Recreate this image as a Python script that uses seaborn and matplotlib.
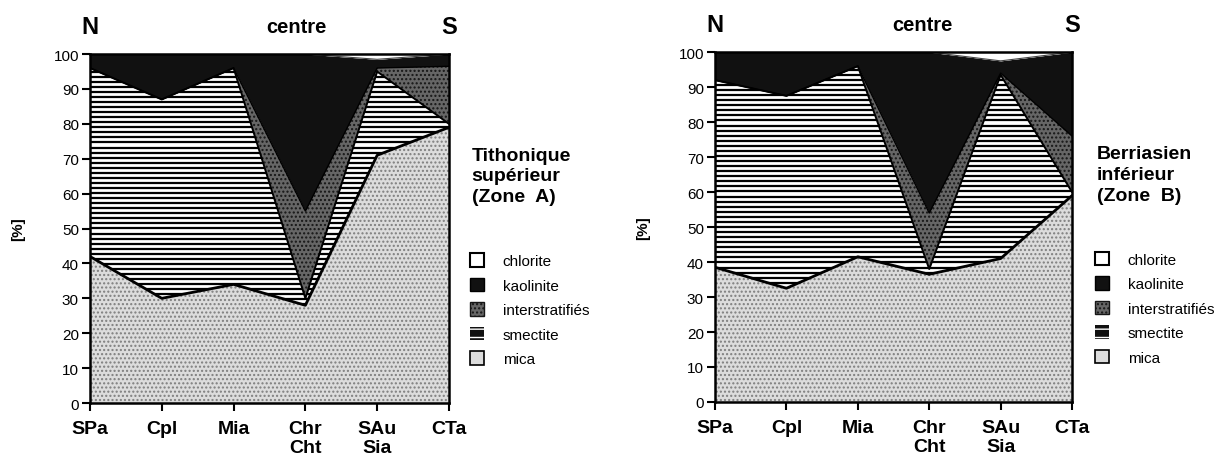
import matplotlib

matplotlib.use("Agg")
import matplotlib.pyplot as plt
import numpy as np
import pandas as pd
import seaborn as sns
from matplotlib.patches import Patch

sns.set_theme(style="ticks")
plt.rcParams["font.family"] = ["Liberation Sans", "DejaVu Sans"]
plt.rcParams["text.color"] = "black"
plt.rcParams["xtick.color"] = "black"
plt.rcParams["ytick.color"] = "black"
plt.rcParams["xtick.labelcolor"] = "black"
plt.rcParams["ytick.labelcolor"] = "black"

# --- data: clay mineral fractions [%] per site, N -> S ------------------- #
sites = ["SPa", "Cpl", "Mia", "Chr\nCht", "SAu\nSia", "CTa"]
minerals = ["mica", "smectite", "interstratifiés", "kaolinite", "chlorite"]

# Tithonique supérieur (Zone A)
tith_mica = [42, 30, 34, 28, 71, 79]
tith_smectite = [54, 57, 62, 2, 24, 1]
tith_inter = [0, 0, 0, 25, 1, 16.5]
tith_kaolinite = [4, 13, 4, 45, 2.5, 3.5]
tith_chlorite = [0, 0, 0, 0, 1.5, 0]

# Berriasien inférieur (Zone B)
berr_mica = [38.5, 32.5, 41.5, 36.5, 41, 59]
berr_smectite = [53.5, 55, 54.5, 1.5, 52.5, 1]
berr_inter = [0, 0, 0, 16, 0.5, 16]
berr_kaolinite = [8, 12.5, 4, 46, 3.5, 24]
berr_chlorite = [0, 0, 0, 0, 2.5, 0]

STYLE = {
    "mica": dict(fc="#dcdcdc", hatch="....", hc="#7e7e7e"),
    "smectite": dict(fc="white", hatch=None, stripes=True),
    "interstratifiés": dict(fc="#666666", hatch="....", hc="#161616"),
    "kaolinite": dict(fc="#111111", hatch=None),
    "chlorite": dict(fc="white", hatch=None),
}
STRIPE_STEP = 1.45  # smectite line texture, in % units


def draw_panel(ax, layers, title, centre_x, leg_x):
    x = np.arange(len(sites))
    base = np.zeros(len(sites))
    tops = {}
    for name, vals in zip(minerals, layers):
        top = base + np.asarray(vals, dtype=float)
        st = STYLE[name]
        poly = ax.fill_between(x, base, top, facecolor=st["fc"], linewidth=0)
        if st["hatch"]:
            ax.fill_between(x, base, top, facecolor="none",
                            edgecolor=st["hc"], hatch=st["hatch"],
                            linewidth=0)
        if st.get("stripes"):
            ys = np.arange(STRIPE_STEP / 2, 100, STRIPE_STEP)
            lc = ax.hlines(ys, x[0], x[-1], colors="black", linewidth=1.6)
            lc.set_clip_path(poly.get_paths()[0], ax.transData)
        tops[name] = top
        base = top

    # boundary lines between layers
    bounds = pd.DataFrame({"x": x, "mica": tops["mica"],
                           "smectite": tops["smectite"],
                           "inter": tops["interstratifiés"]})
    for col, lw in [("mica", 2.0), ("smectite", 1.4), ("inter", 1.0)]:
        sns.lineplot(data=bounds, x="x", y=col, ax=ax, color="black",
                     linewidth=lw)
    sns.lineplot(x=x, y=tops["kaolinite"], ax=ax, color="#444444",
                 linewidth=0.8)

    ax.set_xlim(0, len(sites) - 1)
    ax.set_ylim(0, 100)
    ax.set_yticks(range(0, 101, 10))
    ax.set_xticks(x)
    ax.set_xticklabels(sites, fontsize=14, fontweight="bold",
                       linespacing=1.15)
    ax.tick_params(axis="y", labelsize=11, direction="out", length=6,
                   width=1.5, pad=2)
    ax.tick_params(axis="x", direction="out", length=6, width=1.5, pad=6)
    ax.set_xlabel("")
    ax.set_ylabel("")
    for sp in ax.spines.values():
        sp.set_linewidth(1.8)
        sp.set_color("black")
        sp.set_visible(True)

    tr = ax.get_xaxis_transform()
    ax.text(0, 1.08, "N", transform=tr, ha="center", va="center",
            fontsize=17, fontweight="bold")
    ax.text(centre_x, 1.08, "centre", transform=tr, ha="center",
            va="center", fontsize=14.5, fontweight="bold")
    ax.text(len(sites) - 1, 1.08, "S", transform=tr, ha="center",
            va="center", fontsize=17, fontweight="bold")
    ax.text(-0.2, 0.5, "[%]", transform=ax.transAxes, rotation=90,
            ha="center", va="center", fontsize=11, fontweight="bold")
    ax.text(leg_x + 0.005, 0.735, title, transform=ax.transAxes, ha="left",
            va="top", fontsize=14, fontweight="bold", linespacing=1.3)

    handles = [
        Patch(facecolor="white", edgecolor="black", linewidth=1.5,
              label="chlorite"),
        Patch(facecolor="#111111", edgecolor="black", label="kaolinite"),
        Patch(facecolor="#666666", edgecolor="#161616", hatch="....",
              label="interstratifiés"),
        Patch(facecolor="#111111", edgecolor="white", hatch="--",
              linewidth=0, label="smectite"),
        Patch(facecolor="#dcdcdc", edgecolor="black", linewidth=1.2,
              label="mica"),
    ]
    ax.legend(handles=handles, loc="upper left", bbox_to_anchor=(leg_x, 0.43),
              frameon=False, fontsize=11, handlelength=0.95,
              handleheight=1.0, handletextpad=1.2, labelspacing=0.62,
              borderpad=0, borderaxespad=0)


fig = plt.figure(figsize=(12.21, 4.64), dpi=100)
ax1 = fig.add_axes([0.0737, 0.1293, 0.294, 0.752])
ax2 = fig.add_axes([0.5856, 0.1315, 0.2924, 0.754])

draw_panel(ax1, [tith_mica, tith_smectite, tith_inter, tith_kaolinite,
                 tith_chlorite],
           "Tithonique\nsupérieur\n(Zone  A)", 2.88, 1.058)
draw_panel(ax2, [berr_mica, berr_smectite, berr_inter, berr_kaolinite,
                 berr_chlorite],
           "Berriasien\ninférieur\n(Zone  B)", 2.91, 1.064)

fig.savefig("out.png", dpi=100, facecolor="white")
